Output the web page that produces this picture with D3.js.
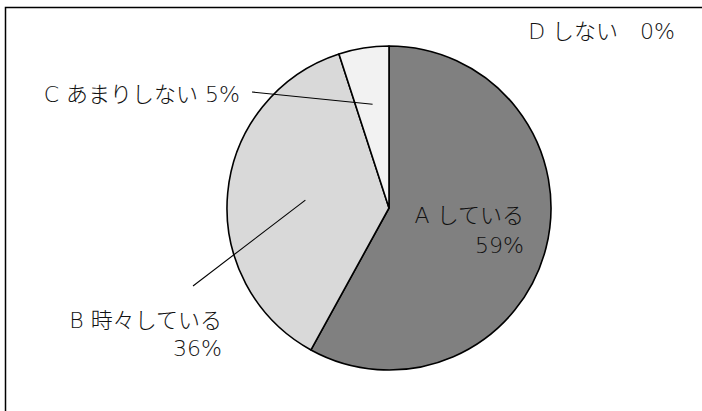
<!DOCTYPE html>
<html>
<head>
<meta charset="utf-8">
<script src="https://cdn.jsdelivr.net/npm/d3@7"></script>
<style>
  body { margin: 0; background: #fff; }
  text { font-family: "DejaVu Sans", "Noto Sans CJK JP", sans-serif; font-weight: 300; fill: #111; }
</style>
</head>
<body>
<div id="chart"></div>
<script>
// data
var names = ["A している", "B 時々している", "C あまりしない", "D しない"];
var values = [58, 37, 5, 0];          // slice sizes as drawn
var pctLabels = ["59%", "36%", "5%", "0%"];
var colors = ["#808080", "#d9d9d9", "#f2f2f2", "#ffffff"];

var w = 702, h = 411;
var cx = 389, cy = 208, r = 162;

var svg = d3.select("#chart").append("svg").attr("width", w).attr("height", h);

// outer frame (right and bottom run off the page)
svg.append("rect")
  .attr("x", 5.5).attr("y", 7.5)
  .attr("width", 720).attr("height", 420)
  .attr("fill", "none")
  .attr("stroke", "#000")
  .attr("stroke-width", 1.5);

var pie = d3.pie().sort(null).value(function (d) { return d; });
var arcs = pie(values);
var arc = d3.arc().innerRadius(0).outerRadius(r);

var g = svg.append("g").attr("transform", "translate(" + cx + "," + cy + ")");

g.selectAll("path")
  .data(arcs.filter(function (d) { return d.value > 0; }))
  .enter()
  .append("path")
  .attr("d", arc)
  .attr("fill", function (d) { return colors[d.index]; })
  .attr("stroke", "#000")
  .attr("stroke-width", 1.6)
  .attr("stroke-linejoin", "round");

// label layout: offset of the right end of the text from the centre
var labels = [
  { lines: [names[0], pctLabels[0]], dx: 135, dy: 15, gap: 30 },
  { lines: [names[1], pctLabels[1]], dx: -167, dy: 120, gap: 28, lead: [-196, 78], leadR: 84 },
  { lines: [names[2] + " " + pctLabels[2]], dx: -149, dy: -106, lead: [-137, -116], leadR: 105 },
  { lines: [names[3] + "\u3000" + pctLabels[3]], dx: 286, dy: -169 }
];

labels.forEach(function (lb, i) {
  var t = g.append("text")
    .attr("text-anchor", "end")
    .attr("font-size", "22px");
  lb.lines.forEach(function (s, j) {
    t.append("tspan")
      .attr("x", lb.dx)
      .attr("y", lb.dy + j * (lb.gap || 0))
      .text(s);
  });
  if (lb.lead) {
    var c = d3.arc().innerRadius(lb.leadR).outerRadius(lb.leadR).centroid(arcs[i]);
    g.append("line")
      .attr("x1", lb.lead[0]).attr("y1", lb.lead[1])
      .attr("x2", c[0]).attr("y2", c[1])
      .attr("stroke", "#000")
      .attr("stroke-width", 1.1);
  }
});
</script>
</body>
</html>
